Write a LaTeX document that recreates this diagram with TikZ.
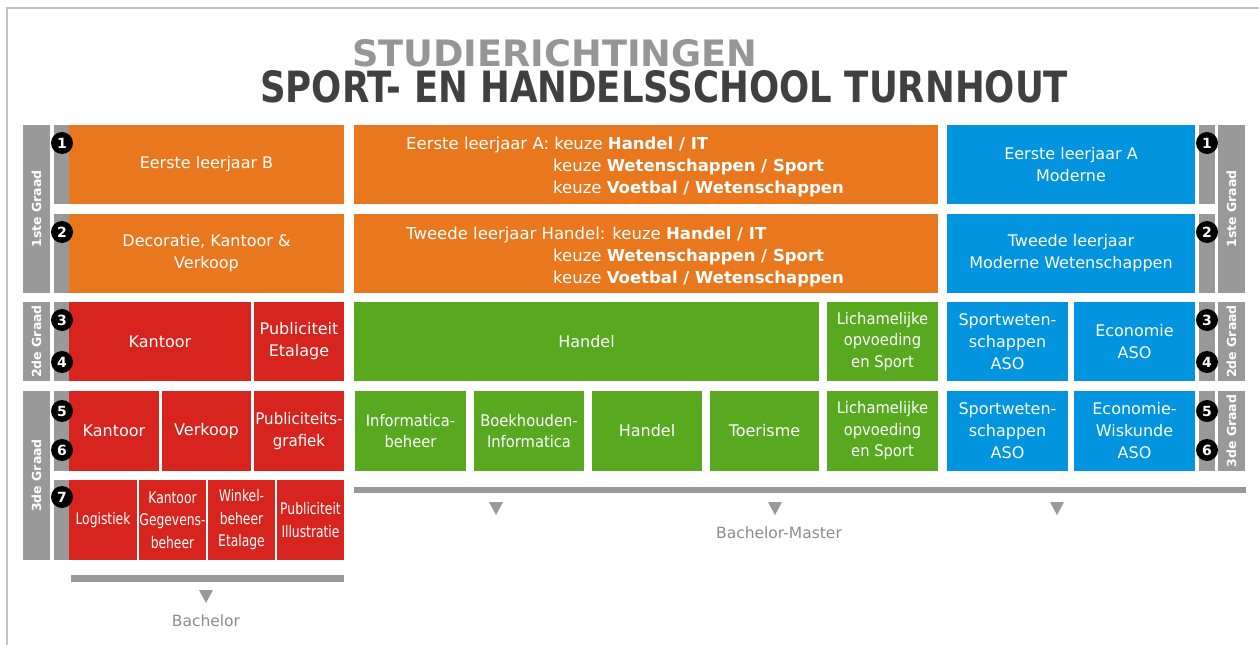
\documentclass[tikz,border=0pt]{standalone}
\usepackage{fontspec}
\usepackage{graphicx}
\setmainfont{DejaVu Sans}
\newfontfamily\condf[FakeStretch=0.92]{DejaVu Sans}
\newfontfamily\semif[FakeStretch=0.94]{DejaVu Sans}
\newfontfamily\narrowf[FakeStretch=0.77]{DejaVu Sans}
\definecolor{cOr}{RGB}{232,119,30}
\definecolor{cRd}{RGB}{216,36,30}
\definecolor{cGr}{RGB}{88,168,32}
\definecolor{cBl}{RGB}{2,148,222}
\definecolor{cGy}{RGB}{153,153,153}
\definecolor{cFrame}{RGB}{195,195,195}
\definecolor{cTitleA}{RGB}{150,150,150}
\definecolor{cTitleB}{RGB}{64,64,64}
\definecolor{cTxtGy}{RGB}{140,140,140}
\tikzset{
  box/.style={rectangle, inner sep=0pt, text=white, align=center, font=\fontsize{16}{22}\selectfont},
  cond/.style={font=\condf\fontsize{16}{21.5}\selectfont},
  semi/.style={font=\semif\fontsize{16}{22}\selectfont},
  narrow/.style={font=\narrowf\fontsize{16}{22.5}\selectfont},
  graybar/.style={rectangle, fill=cGy, inner sep=0pt},
  num/.style={circle, fill=black, minimum size=22pt, inner sep=0pt, text=white, font=\bfseries\fontsize{14}{14}\selectfont},
  graad/.style={rotate=90, text=white, inner sep=0pt, font=\bfseries\fontsize{12.5}{13}\selectfont},
  otext/.style={anchor=base west, inner sep=0pt, text=white, font=\fontsize{16.5}{22}\selectfont},
  note/.style={text=cTxtGy, inner sep=0pt, font=\fontsize{15.5}{18}\selectfont},
  tri/.style={fill=cGy}
}
\newcommand\bx[8][]{\node[box,fill=#7,#1,minimum width={(#5)-(#3)},minimum height={(#6)-(#4)}] (#2) at ({(#3+#5)/2},{(#4+#6)/2}) {#8};}
\newcommand\gb[5]{\node[graybar,minimum width={(#4)-(#2)},minimum height={(#5)-(#3)}] (#1) at ({(#2+#4)/2},{(#3+#5)/2}) {};}
\begin{document}
\begin{tikzpicture}[x=1pt,y=-1pt]
\useasboundingbox (0,0) rectangle (1259,645);
\fill[white] (0,0) rectangle (1259,645);
\draw[cFrame, line width=2pt] (7,645) -- (7,8) -- (1259,8);
% titles
\node[anchor=south west, inner sep=0pt, text=cTitleA] (title1) at (352,67) {\resizebox{405pt}{27pt}{\bfseries STUDIERICHTINGEN}};
\node[anchor=south west, inner sep=0pt, text=cTitleB] (title2) at (260,103) {\resizebox{808pt}{32pt}{\bfseries SPORT- EN HANDELSSCHOOL TURNHOUT}};
% left gray bars
\gb{gL1}{23}{125}{50}{293}
\gb{gL2}{23}{302}{50}{381}
\gb{gL3}{23}{391}{50}{560}
\node[graad] (lL1) at (gL1) {1ste Graad};
\node[graad] (lL2) at (gL2) {2de Graad};
\node[graad] (lL3) at (gL3) {3de Graad};
\gb{iL1}{54}{125}{69}{204}
\gb{iL2}{54}{214}{69}{293}
\gb{iL3}{54}{302}{69}{381}
\gb{iL4}{54}{391}{69}{471}
\gb{iL5}{54}{480}{69}{560}
% right gray bars
\gb{gR1}{1218}{125}{1245}{293}
\gb{gR2}{1218}{302}{1245}{381}
\gb{gR3}{1218}{391}{1245}{471}
\node[graad] (lR1) at (gR1) {1ste Graad};
\node[graad] (lR2) at (gR2) {2de Graad};
\node[graad] (lR3) at (gR3) {3de Graad};
\gb{iR1}{1199}{125}{1215}{204}
\gb{iR2}{1199}{214}{1215}{293}
\gb{iR3}{1199}{302}{1215}{381}
\gb{iR4}{1199}{391}{1215}{471}
% left boxes
\bx{b1}{69}{125}{344}{204}{cOr}{Eerste leerjaar B}
\bx{b2}{69}{214}{344}{293}{cOr}{Decoratie, Kantoor \&\\Verkoop}
\bx{b3a}{69}{302}{251}{381}{cRd}{Kantoor}
\bx{b3b}{254}{302}{344}{381}{cRd}{Publiciteit\\Etalage}
\bx{b4a}{69}{391}{159}{471}{cRd}{Kantoor}
\bx{b4b}{162}{391}{251}{471}{cRd}{Verkoop}
\bx[semi]{b4c}{254}{391}{344}{471}{cRd}{Publiciteits-\\grafiek}
\bx[narrow]{b5a}{69}{480}{137}{560}{cRd}{Logistiek}
\bx[narrow]{b5b}{139}{480}{206}{560}{cRd}{Kantoor\\Gegevens-\\beheer}
\bx[narrow]{b5c}{208}{480}{275}{560}{cRd}{Winkel-\\beheer\\Etalage}
\bx[narrow]{b5d}{277}{480}{344}{560}{cRd}{Publiciteit\\Illustratie}
% middle boxes
\bx{m1}{354}{125}{938}{204}{cOr}{}
\bx{m2}{354}{214}{938}{293}{cOr}{}
\node[otext] (m1a) at (406,149) {Eerste leerjaar A: keuze \textbf{Handel / IT}};
\node[otext] (m1b) at (553,171) {keuze \textbf{Wetenschappen / Sport}};
\node[otext] (m1c) at (553,193) {keuze \textbf{Voetbal / Wetenschappen}};
\node[otext] (m2a) at (406,239) {Tweede leerjaar Handel: keuze \textbf{Handel / IT}};
\node[otext] (m2b) at (553,261) {keuze \textbf{Wetenschappen / Sport}};
\node[otext] (m2c) at (553,283) {keuze \textbf{Voetbal / Wetenschappen}};
\bx{g3a}{354}{302}{819}{381}{cGr}{Handel}
\bx[cond]{g3b}{827}{302}{938}{381}{cGr}{Lichamelijke\\opvoeding\\en Sport}
\bx[cond]{g4a}{355}{391}{466}{471}{cGr}{Informatica-\\beheer}
\bx[cond]{g4b}{474}{391}{584}{471}{cGr}{Boekhouden-\\Informatica}
\bx{g4c}{592}{391}{702}{471}{cGr}{Handel}
\bx{g4d}{710}{391}{819}{471}{cGr}{Toerisme}
\bx[cond]{g4e}{827}{391}{938}{471}{cGr}{Lichamelijke\\opvoeding\\en Sport}
% right boxes
\bx{r1}{947}{125}{1195}{204}{cBl}{Eerste leerjaar A\\Moderne}
\bx{r2}{947}{214}{1195}{293}{cBl}{Tweede leerjaar\\Moderne Wetenschappen}
\bx{r3a}{947}{302}{1068}{381}{cBl}{Sportweten-\\schappen\\ASO}
\bx{r3b}{1074}{302}{1195}{381}{cBl}{Economie\\ASO}
\bx{r4a}{947}{391}{1068}{471}{cBl}{Sportweten-\\schappen\\ASO}
\bx{r4b}{1074}{391}{1195}{471}{cBl}{Economie-\\Wiskunde\\ASO}
% numbers
\node[num] (nL1) at (62,143) {1};
\node[num] (nL2) at (62,232) {2};
\node[num] (nL3) at (62,320) {3};
\node[num] (nL4) at (62,362) {4};
\node[num] (nL5) at (62,411) {5};
\node[num] (nL6) at (62,450) {6};
\node[num] (nL7) at (62,497) {7};
\node[num] (nR1) at (1207,143) {1};
\node[num] (nR2) at (1207,232) {2};
\node[num] (nR3) at (1207,320) {3};
\node[num] (nR4) at (1207,362) {4};
\node[num] (nR5) at (1207,411) {5};
\node[num] (nR6) at (1207,450) {6};
% bottom bars and arrows
\gb{barB}{71}{575}{344}{582}
\gb{barBM}{354}{487}{1246}{493}
\fill[tri] (199,590) -- (213,590) -- (206,603) -- cycle;
\fill[tri] (489,502) -- (503,502) -- (496,515) -- cycle;
\fill[tri] (768,502) -- (782,502) -- (775,515) -- cycle;
\fill[tri] (1050,502) -- (1064,502) -- (1057,515) -- cycle;
\node[note] (tB) at (206,621) {Bachelor};
\node[note] (tBM) at (779,533) {Bachelor-Master};
\end{tikzpicture}
\end{document}
